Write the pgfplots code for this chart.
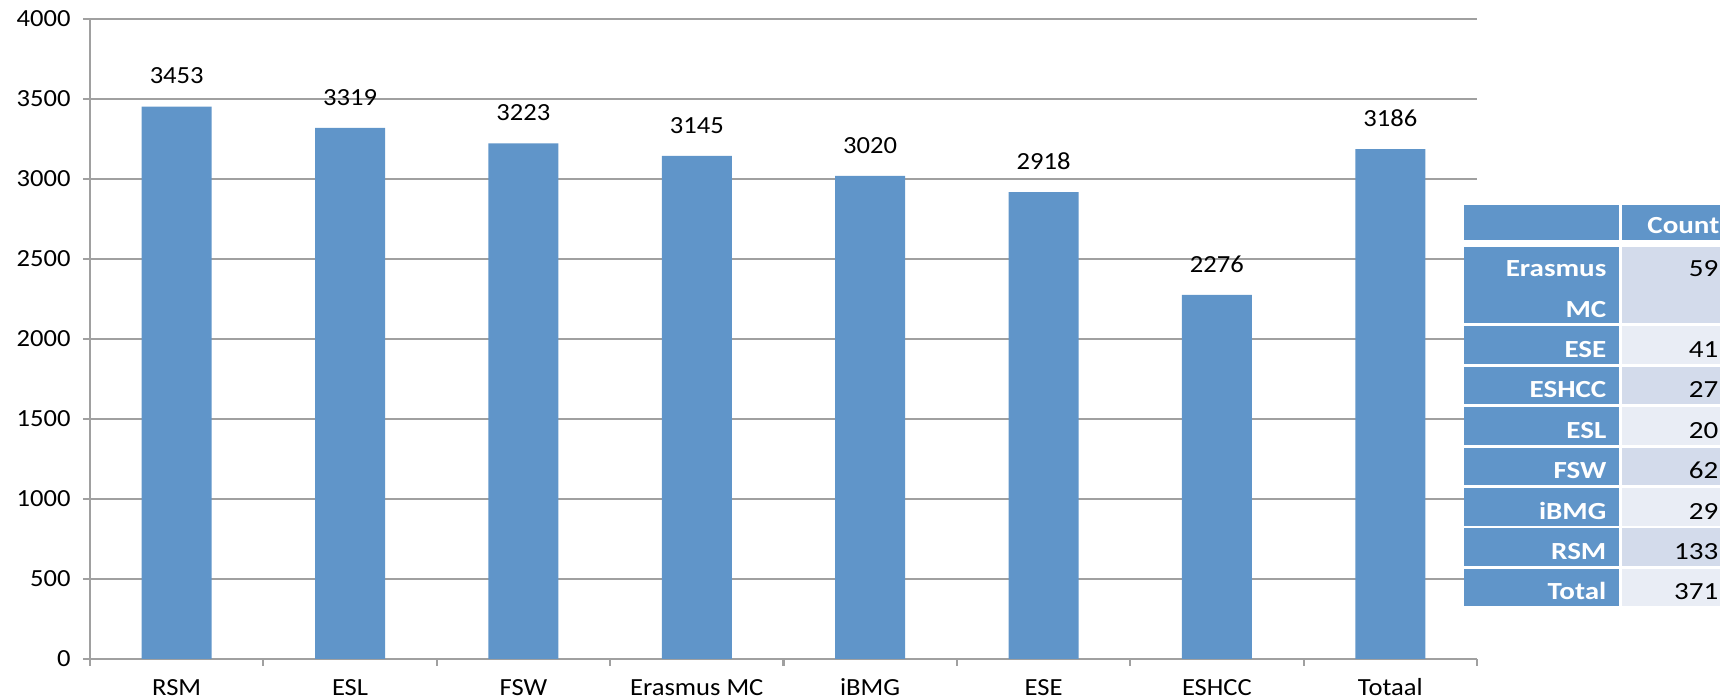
\documentclass[border=0pt]{standalone}
\usepackage{fontspec}
\setmainfont[FakeStretch=1.08]{Carlito}
\newfontfamily\tabfam[FakeStretch=1.18]{Carlito}
\usepackage{pgfplots}
\pgfplotsset{compat=1.18}
\definecolor{barblue}{RGB}{96,149,201}
\definecolor{gridgray}{RGB}{160,160,160}
\definecolor{cellA}{RGB}{211,219,235}
\definecolor{cellB}{RGB}{233,237,245}
\newcommand{\chartfont}{\fontsize{7}{8.5}\selectfont}
\newcommand{\tabfont}{\tabfam\fontsize{7}{9}\selectfont}
\newcommand{\trow}[5]{%
  \fill[barblue] (1464,#1) rectangle (1619,#2);
  \fill[#5] (1622,#1) rectangle (1740,#2);
  \node[anchor=base east,text=white,font=\tabfont\bfseries,inner sep=0pt] at (1607,#2-6) {#3};
  \node[anchor=base east,text=black,font=\tabfont,inner sep=0pt] at (1719,#2-6) {#4};}
\begin{document}
\begin{tikzpicture}
\path[use as bounding box] (0,0) rectangle (172mm,69.7mm);
\begin{axis}[
  at={(9mm,3.8mm)}, anchor=south west,
  scale only axis, width=138.7mm, height=64mm,
  xmin=-0.5, xmax=7.5, ymin=0, ymax=4000,
  ytick={0,500,...,4000},
  xtick={-0.5,0.5,...,7.5},
  xticklabels={RSM,ESL,FSW,Erasmus MC,iBMG,ESE,ESHCC,Totaal},
  x tick label as interval,
  axis x line*=bottom, axis y line*=left,
  axis line style={draw=gridgray, line width=0.6pt, -},
  ymajorgrids, major grid style={draw=gridgray, line width=0.6pt},
  tick align=outside, major tick length=0.7mm,
  tick style={draw=gridgray, line width=0.6pt},
  /pgf/number format/assume math mode=true,
  /pgf/number format/1000 sep={},
  scaled y ticks=false,
  ticklabel style={font=\chartfont, text=black},
  xticklabel style={text height=1.72mm, text depth=0.4mm},
  ybar, bar width=7mm,
  nodes near coords,
  every node near coord/.append style={font=\chartfont, text=black, yshift=1mm},
]
\addplot[fill=barblue, draw=none] coordinates {(0,3453) (1,3319) (2,3223) (3,3145) (4,3020) (5,2918) (6,2276) (7,3186)};
\end{axis}
\begin{scope}[x=0.1mm,y=-0.1mm,shift={(0,69.7mm)}]
  \fill[barblue] (1464,205) rectangle (1619,240);
  \fill[barblue] (1622,205) rectangle (1740,240);
  \node[anchor=base east,text=white,font=\tabfont\bfseries,inner sep=0pt] at (1720,234) {Count};
  \fill[barblue] (1464,247) rectangle (1619,323);
  \fill[cellA] (1622,247) rectangle (1740,323);
  \node[anchor=base east,text=white,font=\tabfont\bfseries,inner sep=0pt] at (1607,277) {Erasmus};
  \node[anchor=base east,text=white,font=\tabfont\bfseries,inner sep=0pt] at (1607,318) {MC};
  \node[anchor=base east,text=black,font=\tabfont,inner sep=0pt] at (1719,277) {59};
  \trow{326}{364}{ESE}{41}{cellB}
  \trow{367}{404}{ESHCC}{27}{cellA}
  \trow{407}{445}{ESL}{20}{cellB}
  \trow{448}{485}{FSW}{62}{cellA}
  \trow{488}{526}{iBMG}{29}{cellB}
  \trow{528}{566}{RSM}{133}{cellA}
  \trow{569}{606}{Total}{371}{cellB}
\end{scope}
\end{tikzpicture}
\end{document}
